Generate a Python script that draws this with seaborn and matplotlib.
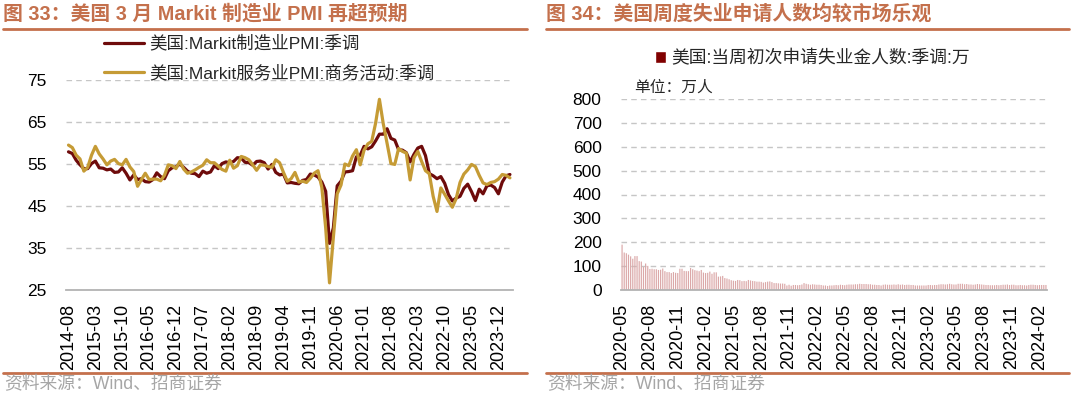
"""US PMI and weekly jobless claims, two-panel chart."""
import matplotlib
matplotlib.use("Agg")
import matplotlib.pyplot as plt
import numpy as np
import pandas as pd
import seaborn as sns
from matplotlib.lines import Line2D
from matplotlib.patches import Patch

# ---- data -----------------------------------------------------------------
months = pd.period_range("2014-08", "2024-03", freq="M").strftime("%Y-%m").tolist()

mfg_pmi = [
    57.9, 57.5, 55.9, 54.8, 53.9,
    53.9, 55.1, 55.7, 54.1, 54.0, 53.6, 53.8, 53.0, 53.1, 54.1, 52.8, 51.2,
    52.4, 51.3, 51.5, 50.8, 50.7, 51.3, 52.9, 52.0, 51.5, 53.4, 54.1, 54.3,
    55.0, 54.2, 53.3, 52.8, 52.7, 52.0, 53.3, 52.8, 53.1, 54.6, 53.9, 55.1,
    55.5, 55.3, 55.6, 56.5, 56.4, 55.4, 55.3, 54.7, 55.6, 55.7, 55.3, 53.8,
    54.9, 53.0, 52.4, 52.6, 50.5, 50.6, 50.4, 50.3, 51.1, 51.3, 52.6, 52.4,
    51.9, 50.7, 48.5, 36.1, 39.8, 49.8, 50.9, 53.1, 53.2, 53.4, 56.7, 57.1,
    59.2, 58.6, 59.1, 60.5, 62.1, 62.1, 63.4, 61.1, 60.7, 58.4, 58.3, 57.7,
    55.5, 57.3, 58.8, 59.2, 57.0, 52.7, 52.2, 51.5, 52.0, 50.4, 47.7, 46.2,
    46.9, 47.3, 49.2, 50.2, 48.4, 46.3, 49.0, 47.9, 49.8, 50.0, 49.4, 47.9,
    50.7, 52.2, 52.5,
]
svc_pmi = [
    59.5, 58.9, 57.1, 56.2, 53.3,
    54.2, 57.1, 59.2, 57.4, 56.2, 54.8, 55.7, 56.1, 55.1, 54.8, 56.1, 54.3,
    53.2, 49.7, 51.3, 52.8, 51.3, 51.4, 51.4, 51.0, 52.3, 54.8, 54.6, 53.9,
    55.6, 53.8, 52.8, 53.1, 53.6, 54.2, 54.7, 56.0, 55.3, 55.3, 54.5, 53.7,
    53.3, 55.9, 54.0, 54.6, 56.8, 56.5, 56.0, 54.8, 53.5, 54.8, 54.7, 54.4,
    54.2, 56.0, 55.3, 53.0, 50.9, 51.5, 53.0, 50.7, 50.9, 50.6, 51.6, 52.8,
    53.4, 49.4, 39.8, 26.7, 37.5, 47.9, 50.0, 55.0, 54.6, 56.9, 58.4, 54.8,
    58.3, 59.8, 60.4, 64.7, 70.4, 64.6, 59.9, 55.1, 54.9, 58.7, 58.0, 57.6,
    51.2, 56.5, 58.0, 55.6, 53.4, 52.7, 47.3, 43.7, 49.3, 47.8, 46.2, 44.7,
    46.8, 50.6, 52.6, 53.6, 54.9, 54.4, 52.3, 50.5, 50.1, 50.6, 50.8, 51.4,
    52.5, 52.3, 51.7,
]
pmi_ticks = ["2014-08", "2015-03", "2015-10", "2016-05", "2016-12", "2017-07",
             "2018-02", "2018-09", "2019-04", "2019-11", "2020-06", "2021-01",
             "2021-08", "2022-03", "2022-10", "2023-05", "2023-12"]

weeks = pd.date_range("2020-05-30", periods=199, freq="W-SAT").strftime("%Y-%m-%d").tolist()
claims = [
    # 2020
    190, 157, 154, 148, 141, 131, 142, 142, 121, 119, 97, 111, 101, 88, 89, 87,
    87, 84, 85, 90, 79, 75, 75, 71, 75, 72, 71, 89, 89, 80, 79,
    # 2021
    79, 92, 87, 83, 81, 79, 84, 73, 71, 72, 77, 68, 74, 74, 56, 57, 59, 50, 48,
    45, 41, 39, 38, 42, 41, 37, 38, 37, 42, 40, 38, 37, 35, 35, 34, 31, 33, 35,
    36, 33, 29, 29, 28, 27, 27, 26, 19, 22, 18, 21, 21, 20,
    # 2022
    21, 23, 29, 26, 24, 22, 24, 23, 22, 22, 21, 19, 19, 17, 19, 19, 20, 21, 20,
    22, 21, 20, 22, 23, 23, 23, 24, 24, 26, 25, 25, 25, 24, 24, 22, 22, 21, 21,
    19, 22, 23, 22, 22, 22, 23, 22, 24, 22, 23, 21, 22, 22, 21,
    # 2023
    21, 19, 19, 19, 19, 19, 19, 21, 21, 20, 21, 21, 23, 24, 24, 23, 24, 26, 24,
    23, 23, 26, 26, 26, 24, 25, 23, 23, 22, 23, 25, 24, 23, 22, 21, 21, 20, 20,
    20, 21, 20, 21, 22, 22, 23, 21, 22, 22, 20, 20, 21, 20,
    # 2024
    20, 19, 21, 22, 22, 21, 20, 21, 21, 21, 21,
]
claims_ticks = ["2020-05", "2020-08", "2020-11", "2021-02", "2021-05", "2021-08",
                "2021-11", "2022-02", "2022-05", "2022-08", "2022-11", "2023-02",
                "2023-05", "2023-08", "2023-11", "2024-02"]

# ---- style ----------------------------------------------------------------
W, H = 1073, 395
ACCENT = "#C4704C"
MFG_COLOR = "#6E0B0B"
SVC_COLOR = "#C59B35"
BAR_COLOR = "#DBA8A8"
GRID = "#C6C6C6"
AXIS = "#B3B3B3"

sns.set_style("white")
plt.rcParams["font.family"] = ["Liberation Sans", "Noto Sans CJK SC"]


def fx(px):
    return px / W


def fy(py):
    return 1 - py / H


def style_axis(ax):
    sns.despine(ax=ax, left=True)
    ax.spines["bottom"].set_color(AXIS)
    ax.spines["bottom"].set_linewidth(1.3)
    ax.yaxis.grid(True, linestyle=(0, (4, 3)), color=GRID, linewidth=1)
    ax.xaxis.grid(False)
    ax.tick_params(axis="y", length=0, labelsize=12.5, pad=14, labelcolor="black")
    ax.tick_params(axis="x", direction="out", length=4, width=1.3, color=AXIS,
                   labelsize=13, pad=6, rotation=90, labelcolor="black")
    ax.set_xlabel("")
    ax.set_ylabel("")


fig = plt.figure(figsize=(W / 100, H / 100), dpi=100)

# ---- left: PMI lines ------------------------------------------------------
ax1 = fig.add_axes([fx(66), fy(290), fx(513 - 66), (290 - 80) / H])
pmi = pd.DataFrame({"idx": np.arange(len(months)), "month": months,
                    "mfg": mfg_pmi, "svc": svc_pmi})
sns.lineplot(data=pmi, x="idx", y="mfg", color=MFG_COLOR, linewidth=2.3, ax=ax1)
sns.lineplot(data=pmi, x="idx", y="svc", color=SVC_COLOR, linewidth=2.3, ax=ax1)
ax1.set_ylim(25, 75)
ax1.set_yticks([25, 35, 45, 55, 65, 75])
ax1.set_xlim(-0.65, len(months) - 0.2)
ax1.set_xticks([months.index(m) for m in pmi_ticks])
ax1.set_xticklabels(pmi_ticks)
style_axis(ax1)

handles = [Line2D([], [], color=MFG_COLOR, linewidth=2.3),
           Line2D([], [], color=SVC_COLOR, linewidth=2.3)]
fig.legend(handles, ["美国:Markit制造业PMI:季调", "美国:Markit服务业PMI:商务活动:季调"],
           loc="upper left", bbox_to_anchor=(fx(104), fy(35)), frameon=False,
           fontsize=12.6, handlelength=2.3, handletextpad=0.3,
           labelspacing=0.72, borderpad=0, borderaxespad=0)

# ---- right: weekly claims bars --------------------------------------------
ax2 = fig.add_axes([fx(621), fy(290), fx(1047 - 621), (290 - 99) / H])
claims_df = pd.DataFrame({"week": weeks, "claims": claims})
sns.barplot(data=claims_df, x="week", y="claims", color=BAR_COLOR,
            width=0.55, saturation=1, linewidth=0, ax=ax2)
for bar in ax2.patches:
    bar.set_snap(False)
ax2.set_ylim(0, 800)
ax2.set_yticks(range(0, 801, 100))
ax2.set_xlim(-0.5, len(weeks) - 0.5)
ax2.set_xticks([13 * i for i in range(len(claims_ticks))])
ax2.set_xticklabels(claims_ticks)
style_axis(ax2)

fig.legend([Patch(facecolor="#800000")], ["美国:当周初次申请失业金人数:季调:万"],
           loc="upper left", bbox_to_anchor=(fx(655), fy(50)), frameon=False,
           fontsize=12.8, handlelength=0.6, handleheight=0.6, handletextpad=0.3,
           borderpad=0, borderaxespad=0)
fig.text(fx(634), fy(87), "单位：万人", fontsize=11.3, va="center", ha="left")

# ---- titles, rules, source ------------------------------------------------
for x0, x1, title in [(3, 527, "图 33：美国 3 月 Markit 制造业 PMI 再超预期"),
                      (546, 1069, "图 34：美国周度失业申请人数均较市场乐观")]:
    fig.text(fx(x0), fy(14), title, fontsize=14.3, weight="bold", color=ACCENT,
             va="center", ha="left")
    fig.add_artist(Line2D([fx(x0), fx(x1)], [fy(29), fy(29)], color=ACCENT, linewidth=2))
    fig.add_artist(Line2D([fx(x0), fx(x1)], [fy(373), fy(373)], color=ACCENT, linewidth=2))
    fig.text(fx(x0 + 1), fy(385), "资料来源：Wind、招商证券", fontsize=12.8,
             color="#A6A6A6", va="center", ha="left")

fig.savefig("out.png", dpi=100)
plt.close(fig)
